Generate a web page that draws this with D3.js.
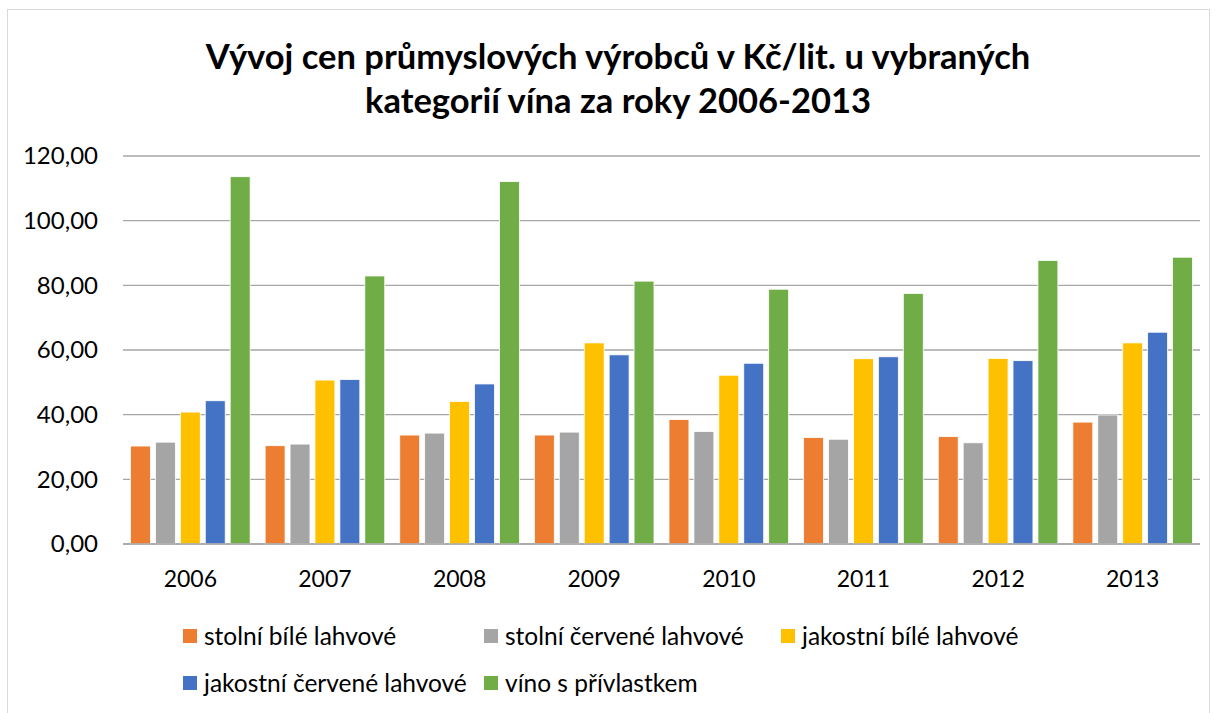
<!DOCTYPE html>
<html>
<head>
<meta charset="utf-8">
<script src="https://cdn.jsdelivr.net/npm/d3@7"></script>
<style>
  body { margin: 0; background: #fff; }
  text { font-family: Lato, "Open Sans", sans-serif; fill: #000; }
</style>
</head>
<body>
<div id="chart"></div>
<script>
// categories / series
const years = ["2006", "2007", "2008", "2009", "2010", "2011", "2012", "2013"];
const seriesNames = [
  "stolní bílé lahvové",
  "stolní červené lahvové",
  "jakostní bílé lahvové",
  "jakostní červené lahvové",
  "víno s přívlastkem"
];
const colors = ["#ED7D31", "#A5A5A5", "#FFC000", "#4472C4", "#70AD47"];

// values, Kč/lit.
const stolniBile = [30.3, 30.4, 33.7, 33.7, 38.5, 32.9, 33.2, 37.7];
const stolniCervene = [31.5, 30.9, 34.3, 34.6, 34.8, 32.4, 31.3, 39.9];
const jakostniBile = [40.8, 50.7, 44.1, 62.2, 52.2, 57.3, 57.4, 62.2];
const jakostniCervene = [44.3, 50.9, 49.5, 58.5, 55.9, 57.9, 56.7, 65.5];
const vinoPrivlastek = [113.6, 82.9, 112.1, 81.3, 78.8, 77.5, 87.7, 88.7];
const yTicks = [0, 20, 40, 60, 80, 100, 120];

const seriesValues = [stolniBile, stolniCervene, jakostniBile, jakostniCervene, vinoPrivlastek];
const rows = years.map((yr, i) => ({
  year: yr,
  vals: seriesNames.map((s, k) => ({ key: s, value: seriesValues[k][i] }))
}));

const W = 1218, H = 713;
const plot = { left: 123, right: 1200, top: 156, bottom: 544 };

const svg = d3.select("#chart").append("svg")
  .attr("width", W).attr("height", H);

// chart border
svg.append("rect")
  .attr("x", 7.5).attr("y", 9.5)
  .attr("width", 1202).attr("height", 720)
  .attr("fill", "#fff").attr("stroke", "#D9D9D9");

// title
const title = svg.append("text")
  .attr("text-anchor", "middle")
  .attr("font-weight", "bold")
  .attr("font-size", 34.5);
title.append("tspan").attr("x", 618).attr("y", 69)
  .text("Vývoj cen průmyslových výrobců v Kč/lit. u vybraných");
title.append("tspan").attr("x", 618).attr("y", 113)
  .text("kategorií vína za roky 2006-2013");

const x0 = d3.scaleBand().domain(years).range([plot.left, plot.right]);
const x1 = d3.scaleBand().domain(seriesNames)
  .range([7.5, x0.bandwidth() - 7.5]).paddingInner(0.2);
const y = d3.scaleLinear().domain([0, 120]).range([plot.bottom, plot.top]);

// gridlines
svg.append("g")
  .selectAll("line").data(yTicks).join("line")
  .attr("x1", plot.left).attr("x2", plot.right)
  .attr("y1", d => y(d)).attr("y2", d => y(d))
  .attr("stroke", "#A6A6A6")
  .attr("stroke-width", 1.3);

// y axis labels
const fmt = d => d3.format(".2f")(d).replace(".", ",");
svg.append("g")
  .selectAll("text").data(yTicks).join("text")
  .attr("x", 98).attr("y", d => y(d)).attr("dy", "0.35em")
  .attr("text-anchor", "end").attr("font-size", 24)
  .text(fmt);

// bars
const groups = svg.append("g")
  .selectAll("g").data(rows).join("g")
  .attr("transform", d => `translate(${x0(d.year)},0)`);
groups.selectAll("rect").data(d => d.vals).join("rect")
  .attr("x", d => x1(d.key))
  .attr("width", x1.bandwidth())
  .attr("y", d => y(d.value))
  .attr("height", d => y(0) - y(d.value))
  .attr("fill", (d, i) => colors[i])
  .attr("stroke", "#fff").attr("stroke-width", 0.8);

// baseline on top of bars
svg.append("line")
  .attr("x1", plot.left).attr("x2", plot.right)
  .attr("y1", y(0)).attr("y2", y(0))
  .attr("stroke", "#A6A6A6").attr("stroke-width", 1.3);

// x axis labels
svg.append("g")
  .selectAll("text").data(years).join("text")
  .attr("x", d => x0(d) + x0.bandwidth() / 2)
  .attr("y", 587)
  .attr("text-anchor", "middle").attr("font-size", 23)
  .text(d => d);

// legend
const legendPos = [
  { x: 183, y: 636 }, { x: 484, y: 636 }, { x: 781, y: 636 },
  { x: 183, y: 683 }, { x: 484, y: 683 }
];
const legend = svg.append("g")
  .selectAll("g").data(seriesNames).join("g")
  .attr("transform", (d, i) => `translate(${legendPos[i].x},${legendPos[i].y})`);
legend.append("rect")
  .attr("x", 0).attr("y", -7).attr("width", 14).attr("height", 14)
  .attr("fill", (d, i) => colors[i]);
legend.append("text")
  .attr("x", 21).attr("y", 0).attr("dy", "0.35em")
  .attr("font-size", 24.5)
  .text(d => d);
</script>
</body>
</html>
